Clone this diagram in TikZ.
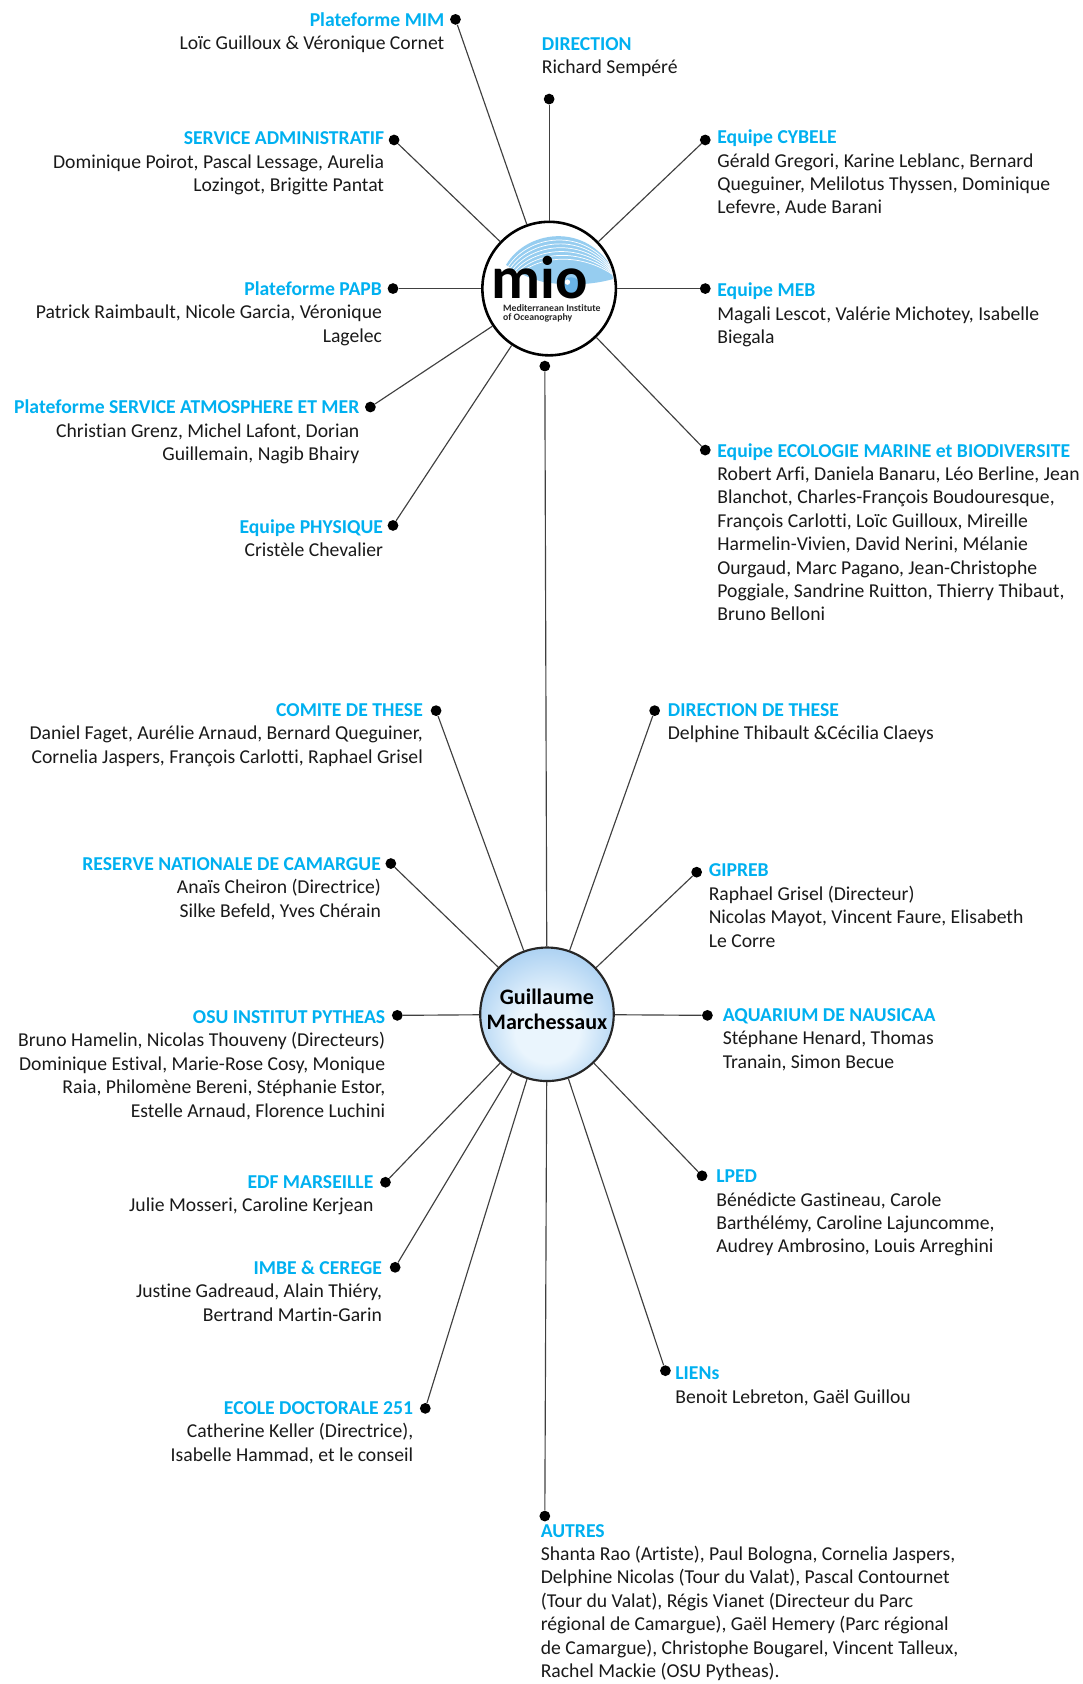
\documentclass[tikz,border=0pt]{standalone}
\usepackage{fontspec}
\setmainfont[Ligatures=NoCommon]{Carlito}
\usetikzlibrary{calc}
\definecolor{ttlblue}{RGB}{0,176,240}
\definecolor{gin}{RGB}{234,245,253}
\definecolor{gout}{RGB}{92,163,228}
\definecolor{swoosh}{RGB}{150,205,240}
\definecolor{globe}{RGB}{105,180,232}
\pgfdeclareradialshading{gmshade}{\pgfpoint{0bp}{-8bp}}{color(0bp)=(gin); color(12bp)=(gin); color(50bp)=(gout)}
\newcommand\txtfont{\fontsize{13.7}{16.3}\selectfont}
\newcommand\ttl[1]{{\color{ttlblue}\bfseries\strut #1}}

\begin{document}
\begin{tikzpicture}[x=0.75pt, y=-0.75pt,
  dot/.style={circle, fill=black, inner sep=0pt, minimum size=7.5pt},
  link/.style={draw=black!75, line width=0.8pt},
  lblL/.style={anchor=north east, align=right, inner sep=0pt, font=\txtfont, text=black!90},
  lblR/.style={anchor=north west, align=left, inner sep=0pt, font=\txtfont, text=black!90},
  hub/.style={circle, minimum size=93pt, inner sep=0pt}]
\useasboundingbox (0,0) rectangle (1005,1564);

% MIO
\node[hub, draw=black, line width=1.8pt, fill=white] (mio) at (510,268) {};
\begin{scope}
\clip (510,268) circle (60);
\fill[swoosh] (470,246) .. controls (490,212) and (550,205) .. (573,258) .. controls (555,264) and (530,266) .. (505,262) .. controls (490,258) and (478,252) .. (470,246) -- cycle;
\foreach \k in {1,...,6}
  \draw[white, line width=0.5pt] (470+2*\k,246+1.5*\k) .. controls (490+2*\k,212+4*\k) and (550-\k,205+5*\k) .. (573,258);
\end{scope}
\fill[globe] (530.5,266) circle (8.5);
\fill[white] (527,262) circle (2.5);
\node[anchor=base, inner sep=0pt, font=\fontsize{42}{42}\selectfont\bfseries] (mioL) at (501,277) {mio};
\node[anchor=north west, align=left, inner sep=0pt, font=\fontsize{6.8}{6.4}\selectfont\bfseries, text=black!85] (mioS) at (467,282.5) {Mediterranean Institute\\of Oceanography};

\node[dot] (mim) at (423,18) {};
\node[lblL] (mimT) at ($(mim)+(-10,-9)$) {\ttl{Plateforme MIM}\\Loïc Guilloux \& Véronique Cornet};
\node[dot] (dir) at (510,92) {};
\node[lblR] (dirT) at ($(dir)+(-7,-61)$) {\ttl{DIRECTION}\\Richard Sempéré};
\node[dot] (adm) at (366,130) {};
\node[lblL] (admT) at ($(adm)+(-9,-11)$) {\ttl{SERVICE ADMINISTRATIF}\\Dominique Poirot, Pascal Lessage, Aurelia\\Lozingot, Brigitte Pantat};
\node[dot] (cyb) at (655,130) {};
\node[lblR] (cybT) at ($(cyb)+(11,-12)$) {\ttl{Equipe CYBELE}\\Gérald Gregori, Karine Leblanc, Bernard\\Queguiner, Melilotus Thyssen, Dominique\\Lefevre, Aude Barani};
\node[dot] (papb) at (365,268) {};
\node[lblL] (papbT) at ($(papb)+(-10,-9)$) {\ttl{Plateforme PAPB}\\Patrick Raimbault, Nicole Garcia, Véronique\\Lagelec};
\node[dot] (meb) at (655,268) {};
\node[lblR] (mebT) at ($(meb)+(11,-8)$) {\ttl{Equipe MEB}\\Magali Lescot, Valérie Michotey, Isabelle\\Biegala};
\node[dot] (atm) at (344,378) {};
\node[lblL] (atmT) at ($(atm)+(-10,-9)$) {\ttl{Plateforme SERVICE ATMOSPHERE ET MER}\\Christian Grenz, Michel Lafont, Dorian\\Guillemain, Nagib Bhairy};
\node[dot] (eco) at (655,418) {};
\node[lblR] (ecoT) at ($(eco)+(11,-9)$) {\ttl{Equipe ECOLOGIE MARINE et BIODIVERSITE}\\Robert Arfi, Daniela Banaru, Léo Berline, Jean\\Blanchot, Charles-François Boudouresque,\\François Carlotti, Loïc Guilloux, Mireille\\Harmelin-Vivien, David Nerini, Mélanie\\Ourgaud, Marc Pagano, Jean-Christophe\\Poggiale, Sandrine Ruitton, Thierry Thibaut,\\Bruno Belloni};
\node[dot] (phy) at (365,488) {};
\node[lblL] (phyT) at ($(phy)+(-9,-8)$) {\ttl{Equipe PHYSIQUE}\\Cristèle Chevalier};
\node[dot] (mid) at (506,340) {};

% Guillaume
\node[hub, draw=black!85, line width=1.5pt, shading=gmshade] (gm) at (508,942) {};
\node[align=center, inner sep=0pt, font=\fontsize{15.4}{17.4}\selectfont\bfseries] (gmT) at (508,937) {Guillaume\\Marchessaux};

\node[dot] (com) at (405,660) {};
\node[lblL] (comT) at ($(com)+(-12,-10)$) {\ttl{COMITE DE THESE}\\Daniel Faget, Aurélie Arnaud, Bernard Queguiner,\\Cornelia Jaspers, François Carlotti, Raphael Grisel};
\node[dot] (dth) at (608,660) {};
\node[lblR] (dthT) at ($(dth)+(12,-10)$) {\ttl{DIRECTION DE THESE}\\Delphine Thibault \&Cécilia Claeys};
\node[dot] (rnc) at (363,802) {};
\node[lblL] (rncT) at ($(rnc)+(-9,-9)$) {\ttl{RESERVE NATIONALE DE CAMARGUE}\\Anaïs Cheiron (Directrice)\\Silke Befeld, Yves Chérain};
\node[dot] (gip) at (647,810) {};
\node[lblR] (gipT) at ($(gip)+(11,-11)$) {\ttl{GIPREB}\\Raphael Grisel (Directeur)\\Nicolas Mayot, Vincent Faure, Elisabeth\\Le Corre};
\node[dot] (osu) at (369,943) {};
\node[lblL] (osuT) at ($(osu)+(-11,-8)$) {\ttl{OSU INSTITUT PYTHEAS}\\Bruno Hamelin, Nicolas Thouveny (Directeurs)\\Dominique Estival, Marie-Rose Cosy, Monique\\Raia, Philomène Bereni, Stéphanie Estor,\\Estelle Arnaud, Florence Luchini};
\node[dot] (aqu) at (657,943) {};
\node[lblR] (aquT) at ($(aqu)+(14,-10)$) {\ttl{AQUARIUM DE NAUSICAA}\\Stéphane Henard, Thomas\\Tranain, Simon Becue};
\node[dot] (edf) at (358,1098) {};
\node[lblL] (edfT) at ($(edf)+(-11,-10)$) {\ttl{EDF MARSEILLE}\\Julie Mosseri, Caroline Kerjean};
\node[dot] (lped) at (652,1092) {};
\node[lblR] (lpedT) at ($(lped)+(13,-9)$) {\ttl{LPED}\\Bénédicte Gastineau, Carole\\Barthélémy, Caroline Lajuncomme,\\Audrey Ambrosino, Louis Arreghini};
\node[dot] (imbe) at (367,1177) {};
\node[lblL] (imbeT) at ($(imbe)+(-12,-9)$) {\ttl{IMBE \& CEREGE}\\Justine Gadreaud, Alain Thiéry,\\Bertrand Martin-Garin};
\node[dot] (lien) at (618,1273) {};
\node[lblR] (lienT) at ($(lien)+(9,-7)$) {\ttl{LIENs}\\Benoit Lebreton, Gaël Guillou};
\node[dot] (ecd) at (395,1308) {};
\node[lblL] (ecdT) at ($(ecd)+(-11,-10)$) {\ttl{ECOLE DOCTORALE 251}\\Catherine Keller (Directrice),\\Isabelle Hammad, et le conseil};
\node[dot] (aut) at (506,1408) {};
\node[lblR] (autT) at ($(aut)+(-4,4)$) {\ttl{AUTRES}\\Shanta Rao (Artiste), Paul Bologna, Cornelia Jaspers,\\Delphine Nicolas (Tour du Valat), Pascal Contournet\\(Tour du Valat), Régis Vianet (Directeur du Parc\\régional de Camargue), Gaël Hemery (Parc régional\\de Camargue), Christophe Bougarel, Vincent Talleux,\\Rachel Mackie (OSU Pytheas).};

\foreach \n in {mim,dir,adm,cyb,papb,meb,atm,eco,phy}
  \draw[link] (\n) -- (mio);
\foreach \n in {mid,com,dth,rnc,gip,osu,aqu,edf,lped,imbe,lien,ecd,aut}
  \draw[link] (\n) -- (gm);
\end{tikzpicture}
\end{document}
